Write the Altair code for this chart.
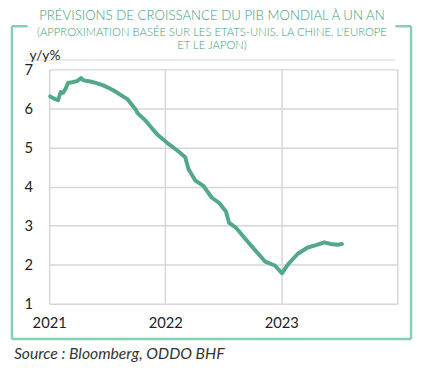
import altair as alt
import pandas as pd

dates = ["2021-01-04", "2021-01-16", "2021-01-29", "2021-02-06", "2021-02-14", "2021-02-22",
         "2021-03-01", "2021-03-14", "2021-03-30", "2021-04-11", "2021-04-19", "2021-05-10",
         "2021-05-30", "2021-06-20", "2021-07-11", "2021-07-31", "2021-08-21", "2021-09-05",
         "2021-10-01", "2021-10-06", "2021-11-01", "2021-12-07", "2022-01-07", "2022-02-07",
         "2022-03-05", "2022-03-15", "2022-04-05", "2022-05-01", "2022-05-27", "2022-06-20",
         "2022-07-11", "2022-07-21", "2022-08-11", "2022-09-11", "2022-10-12", "2022-11-11",
         "2022-12-12", "2023-01-03", "2023-01-22", "2023-02-22", "2023-03-25", "2023-04-20",
         "2023-05-16", "2023-06-06", "2023-06-26", "2023-07-11"]
values = [6.31, 6.25, 6.21, 6.42, 6.40, 6.51,
          6.65, 6.67, 6.70, 6.78, 6.72, 6.69,
          6.65, 6.59, 6.51, 6.42, 6.31, 6.23,
          5.96, 5.88, 5.68, 5.33, 5.12, 4.93,
          4.75, 4.45, 4.16, 4.02, 3.72, 3.58,
          3.36, 3.07, 2.95, 2.65, 2.36, 2.08,
          1.98, 1.78, 2.01, 2.28, 2.44, 2.50,
          2.57, 2.53, 2.51, 2.53]
y_ticks = [1, 2, 3, 4, 5, 6, 7]
x_years = [2021, 2022, 2023, 2024]

title_lines = ["PRÉVISIONS DE CROISSANCE DU PIB MONDIAL À UN AN",
               "(APPROXIMATION BASÉE SUR LES ETATS-UNIS, LA CHINE, L'EUROPE",
               "ET LE JAPON)"]
unit_label = "y/y%"
source_text = "Source : Bloomberg, ODDO BHF"

df = pd.DataFrame({"date": [d + "T00:00:00" for d in dates], "value": values})
one = pd.DataFrame({"k": [0]})

W, H = 355, 239
GREEN = "#52a987"
FRAME = "#86d0b1"
TITLE = "#3e9c7a"

x_axis = alt.Axis(values=[alt.DateTime(year=y, month=1, date=1) for y in x_years],
                  format="%Y", labelExpr="year(datum.value) == 2024 ? '' : datum.label",
                  title=None, grid=True, domain=False, ticks=False,
                  labelFont="Lato", labelFontSize=15, labelColor="#222", labelPadding=12,
                  gridColor="#d6d6d6", gridWidth=1.5, labelFlush=False)
y_axis = alt.Axis(values=y_ticks, title=None, grid=True, domain=False, ticks=False,
                  labelFont="Lato", labelFontSize=15, labelColor="#222", labelPadding=17,
                  gridColor="#d6d6d6", gridWidth=1.5)

line = alt.Chart(df).mark_line(color=GREEN, strokeWidth=4, strokeJoin="round", strokeCap="round").encode(
    x=alt.X("date:T", axis=x_axis,
            scale=alt.Scale(domain=[alt.DateTime(year=2021, month=1, date=1),
                                    alt.DateTime(year=2024, month=1, date=1)])),
    y=alt.Y("value:Q", axis=y_axis, scale=alt.Scale(domain=[1, 7])),
)

L, R, T, B = -38, 369, -44, 275
rules = []
for (x1, x2, y1, y2, c, w) in [
    (L, L, T, B, FRAME, 2.5), (R, R, T, B, FRAME, 2.5), (L, R, B, B, FRAME, 2.5),
    (L, L + 16, T, T, FRAME, 2.5), (R - 16, R, T, T, FRAME, 2.5),
    (-25, 353, -9.5, -9.5, "#d6d6d6", 1),
]:
    rules.append(alt.Chart(one).mark_rule(color=c, strokeWidth=w).encode(
        x=alt.value(x1), x2=alt.value(x2), y=alt.value(y1), y2=alt.value(y2)))

texts = [
    alt.Chart(one).mark_text(text=title_lines[0], font="Lato", fontSize=13.5, fontWeight=300, color=TITLE,
                             align="center", baseline="middle").encode(x=alt.value(166), y=alt.value(-54)),
    alt.Chart(one).mark_text(text=title_lines[1], font="Lato", fontSize=11.5, fontWeight=300, color=TITLE,
                             align="center", baseline="middle").encode(x=alt.value(166), y=alt.value(-37)),
    alt.Chart(one).mark_text(text=title_lines[2], font="Lato", fontSize=11.5, fontWeight=300, color=TITLE,
                             align="center", baseline="middle").encode(x=alt.value(166), y=alt.value(-24)),
    alt.Chart(one).mark_text(text=unit_label, font="Lato", fontSize=14, color="#222",
                             align="left", baseline="alphabetic").encode(x=alt.value(-20), y=alt.value(-10)),
    alt.Chart(one).mark_text(text=source_text, font="Lato", fontSize=16, fontStyle="italic", color="#333",
                             align="left", baseline="middle").encode(x=alt.value(-36), y=alt.value(290)),
]

chart = alt.layer(*rules, line, *texts).properties(
    width=W, height=H,
    autosize=alt.AutoSizeParams(type="none"),
    padding={"left": 42, "top": 59, "right": 17, "bottom": 66},
).configure_view(stroke=None)

chart.save("out.html", embed_options={"renderer": "svg", "actions": False})
